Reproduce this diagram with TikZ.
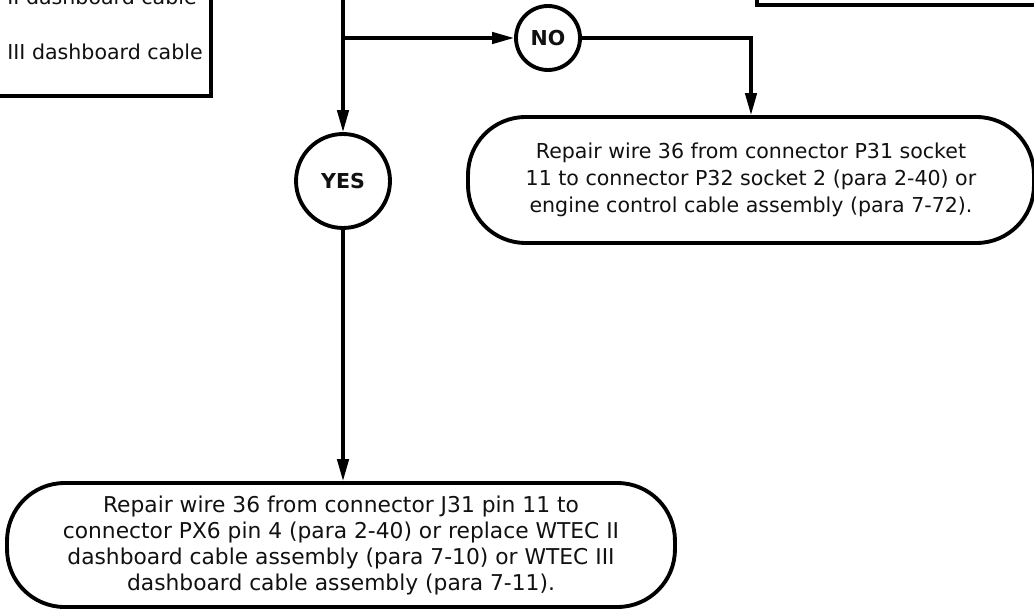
\documentclass[tikz,border=0pt]{standalone}
\usepackage{fontspec}
\setmainfont{DejaVu Sans}
\usepackage{xcolor}
\usepackage{tikz}
\usetikzlibrary{arrows.meta,calc,positioning}
\definecolor{ink}{HTML}{111111}
\tikzset{
  terminal/.style={
    rounded corners=1.15cm,
    draw=black,
    line width=2.2pt,
    fill=white,
    align=center,
    font=\fontsize{11.7}{15.4}\selectfont,
    text=ink,
    inner sep=0pt
  },
  wide/.style={font=\fontsize{12.4}{14.8}\selectfont},
  answer/.style={
    circle,
    draw=black,
    line width=2.2pt,
    fill=white,
    font=\fontsize{11.7}{14}\selectfont\bfseries,
    text=ink,
    inner sep=0pt
  },
  stepbox/.style={draw=black, line width=2.2pt, fill=white, inner sep=0pt},
  steptext/.style={font=\fontsize{11.7}{14}\selectfont, text=ink, inner sep=0pt},
  flowedge/.style={line width=1.8pt, draw=black, -{Triangle[length=12.5pt, width=6.5pt]}}
}

\begin{document}
\begin{tikzpicture}[x=0.02cm,y=-0.02cm]
\useasboundingbox (0,0) rectangle (1034,611);

% steps cut off by the page edge
\node[stepbox, anchor=south east, minimum width=6cm, minimum height=3cm] (prevstep) at (213,98) {};
\node[steptext, anchor=east] (cableii) at (197,-3) {II dashboard cable};
\node[steptext, anchor=east] (cableiii) at (203,52) {III dashboard cable};
\node[stepbox, anchor=south west, minimum width=8cm, minimum height=3cm] (nextstep) at (755,7) {};

\coordinate (feed) at (343,-10);
\coordinate (split) at (343,38);

\node[answer, minimum size=1.88cm] (yes) at (343,181) {YES};
\node[answer, minimum size=1.28cm] (no) at (548,38) {NO};

\node[terminal, minimum width=11.32cm, minimum height=2.52cm] (repairp) at (751,180)
  {Repair wire 36 from connector P31 socket\\11 to connector P32 socket 2 (para 2-40) or\\engine control cable assembly (para 7-72).};
\node[terminal, wide, minimum width=13.36cm, minimum height=2.48cm] (repairj) at (341,545)
  {Repair wire 36 from connector J31 pin 11 to\\connector PX6 pin 4 (para 2-40) or replace WTEC II\\dashboard cable assembly (para 7-10) or WTEC III\\dashboard cable assembly (para 7-11).};

\draw[flowedge] (feed) -- (yes);
\draw[flowedge] (split) -- (no);
\draw[flowedge] (no) -| (repairp.north);
\draw[flowedge] (yes) -- (yes |- repairj.north);

\end{tikzpicture}
\end{document}
